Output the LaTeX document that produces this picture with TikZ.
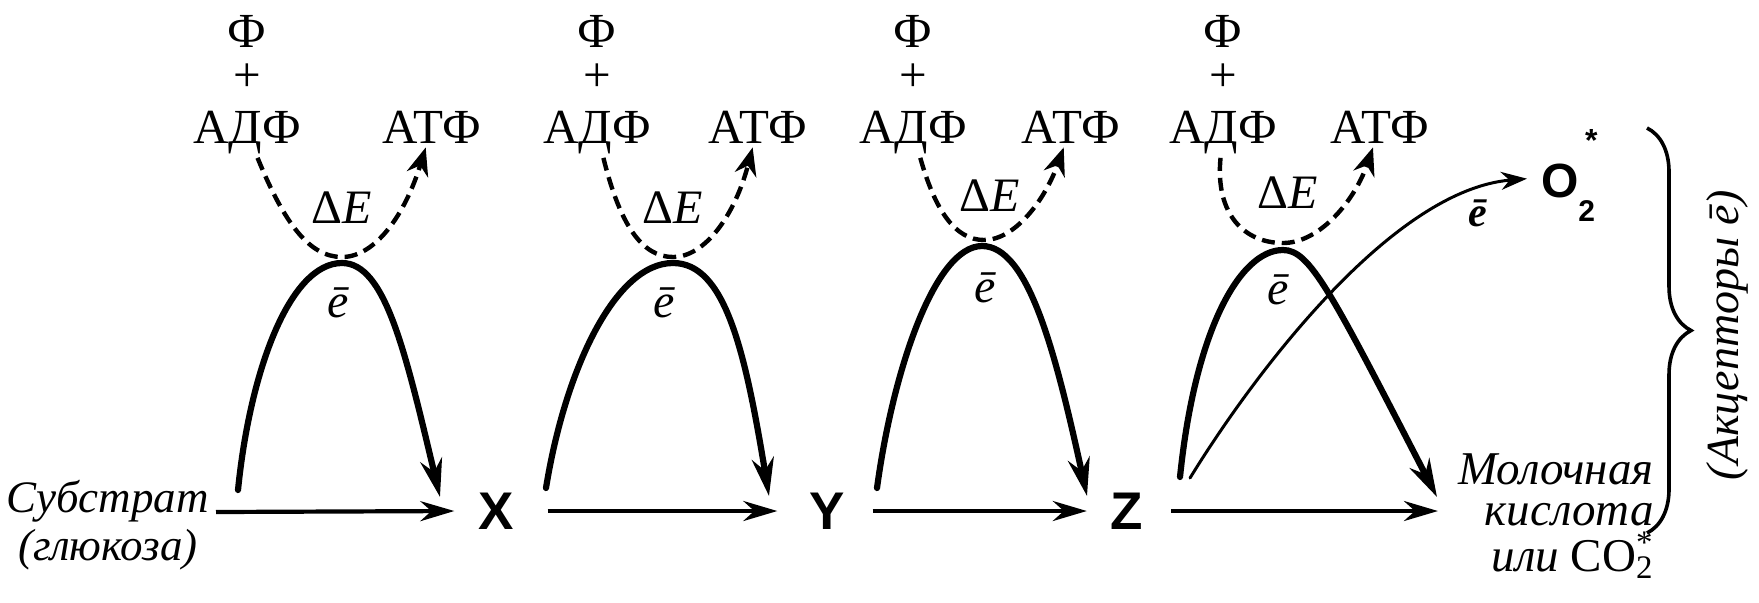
\documentclass[tikz,border=0pt]{standalone}
\usepackage{fontspec}
\setmainfont{Liberation Serif}
\newfontfamily\lsans{Liberation Sans}
\usetikzlibrary{arrows.meta,decorations.pathreplacing}

\begin{document}
\begin{tikzpicture}[x=.5pt,y=-.5pt,
  lbl/.style={inner sep=2pt,font=\fontsize{24.5}{26}\selectfont},
  letter/.style={inner sep=0pt,outer sep=12pt,font=\lsans\bfseries\fontsize{26.5}{28}\selectfont},
  ital/.style={font=\itshape\fontsize{22.5}{24}\selectfont},
  small/.style={inner sep=1pt,font=\fontsize{24}{26}\selectfont},
  dasharr/.style={dash pattern=on 6.5pt off 3.5pt,line width=2.2pt,-{Stealth[length=14pt,width=11pt]}},
  arcarr/.style={line width=3.1pt,-{Stealth[length=19pt,width=11pt]}},
  flow/.style={line width=2.1pt,-{Stealth[length=17pt,width=10pt]}},
  thinarr/.style={line width=1.5pt,-{Stealth[length=13pt,width=9pt]}},
  brc/.style={line width=1.8pt,decorate,decoration={brace,amplitude=22pt,aspect=.5}}]
\path[use as bounding box] (0,0) rectangle (1759,602);

% panel 1
\node[lbl] (phi1) at (247,31) {Ф};
\node[lbl] (plus1) at (247,78) {+};
\node[lbl,anchor=base] (adf1) at (247,143) {АДФ};
\node[lbl,anchor=base] (atf1) at (432,143) {АТФ};
\node[small] (de1) at (342,208) {Δ\textit{E}};
\node[small] (el1) at (338,303) {\textit{ē}};
\coordinate (d1) at (342,257);
\coordinate (t1) at (342,263);
\coordinate (a1) at (238,490);
\coordinate (e1) at (440,497);
\draw[dasharr] (adf1) .. controls (285,225) and (310,257) .. (d1) .. controls (375,257) and (405,215) .. (atf1);
\draw[arcarr,line cap=round] (a1) .. controls (250,370) and (290,263) .. (t1) .. controls (385,263) and (405,350) .. (e1);
\node[ital,anchor=base east] (sub) at (216,512) {Субстрат};
\node[ital] (glu) at (108,550) {(глюкоза)};
\node[letter] (X) at (496,511) {X};
\draw[flow] (sub.base east) -- (X.west);

% panel 2
\node[lbl] (phi2) at (597,31) {Ф};
\node[lbl] (plus2) at (597,78) {+};
\node[lbl,anchor=base] (adf2) at (597,143) {АДФ};
\node[lbl,anchor=base] (atf2) at (758,143) {АТФ};
\node[small] (de2) at (673,208) {Δ\textit{E}};
\node[small] (el2) at (664,303) {\textit{ē}};
\coordinate (d2) at (673,257);
\coordinate (t2) at (673,263);
\coordinate (a2) at (546,488);
\coordinate (e2) at (769,496);
\draw[dasharr] (adf2) .. controls (620,225) and (642,257) .. (d2) .. controls (705,257) and (735,215) .. (atf2);
\draw[arcarr,line cap=round] (a2) .. controls (565,370) and (615,263) .. (t2) .. controls (725,263) and (745,350) .. (e2);
\node[letter] (Y) at (827,511) {Y};
\draw[flow] ([xshift=5pt]X.east) -- ([xshift=-4pt]Y.west);

% panel 3
\node[lbl] (phi3) at (913,31) {Ф};
\node[lbl] (plus3) at (913,78) {+};
\node[lbl,anchor=base] (adf3) at (913,143) {АДФ};
\node[lbl,anchor=base] (atf3) at (1071,143) {АТФ};
\node[small] (de3) at (990,196) {Δ\textit{E}};
\node[small] (el3) at (985,288) {\textit{ē}};
\coordinate (d3) at (984,240);
\coordinate (t3) at (982,246);
\coordinate (a3) at (877,488);
\coordinate (e3) at (1087,496);
\draw[dasharr] (adf3) .. controls (935,210) and (955,240) .. (d3) .. controls (1015,240) and (1045,200) .. (atf3);
\draw[arcarr,line cap=round] (a3) .. controls (893,370) and (935,246) .. (t3) .. controls (1028,246) and (1055,350) .. (e3);
\node[letter] (Z) at (1127,511) {Z};
\draw[flow] ([xshift=2pt]Y.east) -- (Z.west);

% panel 4
\node[lbl] (phi4) at (1223,31) {Ф};
\node[lbl] (plus4) at (1223,78) {+};
\node[lbl,anchor=base] (adf4) at (1223,143) {АДФ};
\node[lbl,anchor=base] (atf4) at (1380,143) {АТФ};
\node[small] (de4) at (1288,193) {Δ\textit{E}};
\node[small] (el4) at (1278,290) {\textit{ē}};
\coordinate (d4) at (1283,243);
\coordinate (t4) at (1283,250);
\coordinate (a4) at (1180,477);
\coordinate (b4) at (1190,478);
\coordinate (e4) at (1437,497);
\draw[dasharr] (adf4) .. controls (1215,215) and (1245,243) .. (d4) .. controls (1320,243) and (1355,200) .. (atf4);
\draw[arcarr,line cap=round] (a4) .. controls (1195,330) and (1240,250) .. (t4) .. controls (1310,250) and (1330,290) .. (e4);
\node[lbl,anchor=base west,inner sep=0pt,outer sep=7pt,font=\fontsize{24}{26}\selectfont] (o2) at (1527,197)
  {\lsans\bfseries O\raisebox{-.5em}{\fontsize{15}{15}\selectfont 2}\hspace{-5pt}\raisebox{.95em}{\fontsize{16}{16}\selectfont *}};
\draw[thinarr,line cap=round] (b4) .. controls (1250,380) and (1390,190) .. (o2);
\node[small,font=\fontsize{21}{23}\selectfont] (el5) at (1478,213) {\bfseries\itshape ē};
\node[anchor=north east,align=right,inner sep=0pt,font=\itshape\fontsize{23.5}{20.5}\selectfont] (lact) at (1654,453)
  {Молочная\\кислота\\[2.5pt]или \upshape CO\rlap{\textsubscript{2}}\textsuperscript{*}};
\draw[flow] ([xshift=2pt]Z.east) -- ([xshift=-10pt]Z -| lact.west);

% acceptors
\draw[brc] (1647,128) -- (1647,533);
\node[rotate=90,font=\itshape\fontsize{23}{25}\selectfont] (acc) at (1727,335) {(Акцепторы ē)};
\end{tikzpicture}
\end{document}
